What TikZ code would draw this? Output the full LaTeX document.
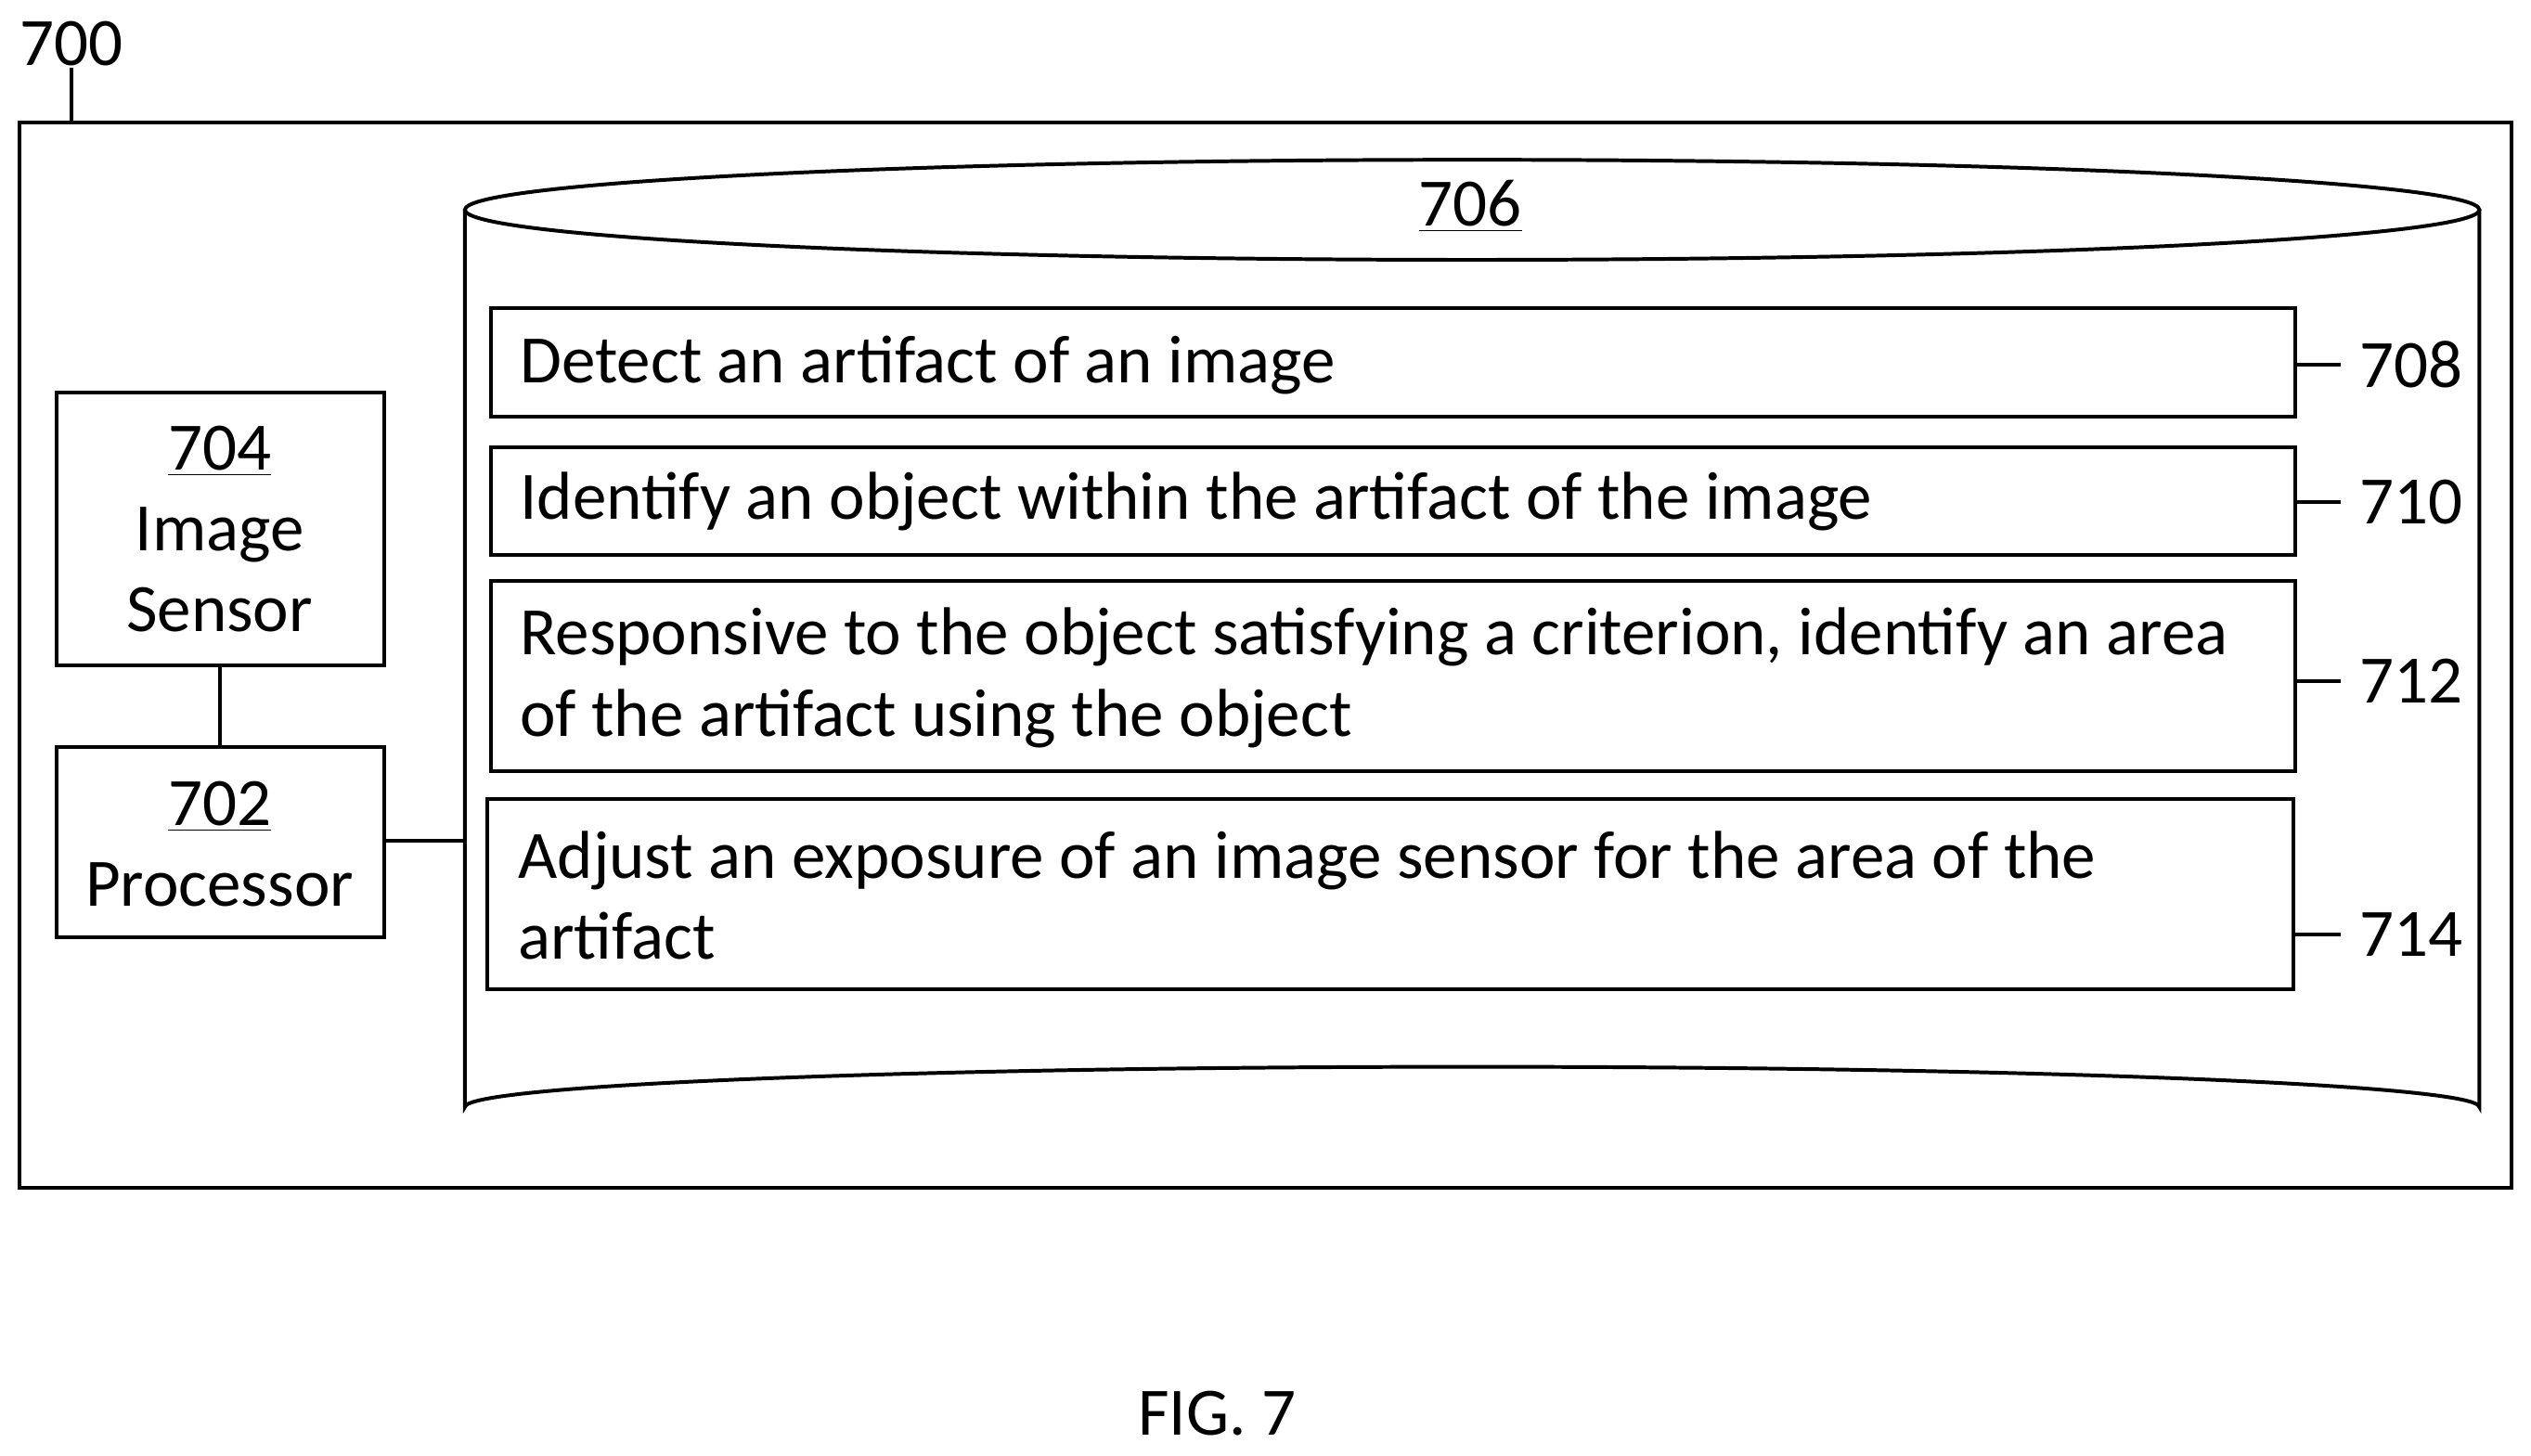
\documentclass[tikz,border=0pt]{standalone}
\usepackage{fontspec}
\setmainfont{Carlito}
\begin{document}
\begin{tikzpicture}[x=0.02cm,y=-0.02cm,line width=1.3pt,
  txt/.style={font=\fontsize{23.9}{28.5}\selectfont,inner sep=0pt}]
\useasboundingbox (0,0) rectangle (1568,902);
\draw (12,76) rectangle (1556,736);
\node[txt] (n700) at (44,27) {700};
\draw (44,42) -- (44,76);
% cylinder
\draw (288,130) -- (288,686) arc[start angle=180,end angle=360,x radius=624,y radius=25] -- (1536,130);
\draw (912,130) ellipse [x radius=624,y radius=31];
\node[txt] (n706) at (911,128) {\underline{706}};
% boxes
\draw (304,191) rectangle (1422,258);
\node[txt,anchor=west] (t708) at (321,226) {Detect an artifact of an image};
\draw (304,277) rectangle (1422,344);
\node[txt,anchor=west] (t710) at (321,311) {Identify an object within the artifact of the image};
\draw (304,360) rectangle (1422,478);
\node[txt,anchor=west,align=left] (t712) at (321,420) {Responsive to the object satisfying a criterion, identify an area\\of the artifact using the object};
\draw (302,495) rectangle (1421,613);
\node[txt,anchor=west,align=left] (t714) at (320,555) {Adjust an exposure of an image sensor for the area of the\\artifact};
\foreach \y/\l/\x in {226/708/1422,311/710/1422,422/712/1422,579/714/1421}{
  \draw (\x,\y) -- (1450,\y);
  \node[txt] at (1494,\y) {\l};
}
% left boxes
\draw (35,243) rectangle (238,412);
\node[txt,align=center] (t704) at (136,328) {\underline{704}\\Image\\Sensor};
\draw (35,463) rectangle (238,581);
\node[txt,align=center] (t702) at (136,523) {\underline{702}\\Processor};
\coordinate (a) at (136,412); \coordinate (b) at (136,463);
\draw (a) -- (b);
\coordinate (c) at (238,521); \coordinate (d) at (288,521);
\draw (c) -- (d);
\node[txt] (fig) at (754,876) {FIG. 7};
\end{tikzpicture}
\end{document}
